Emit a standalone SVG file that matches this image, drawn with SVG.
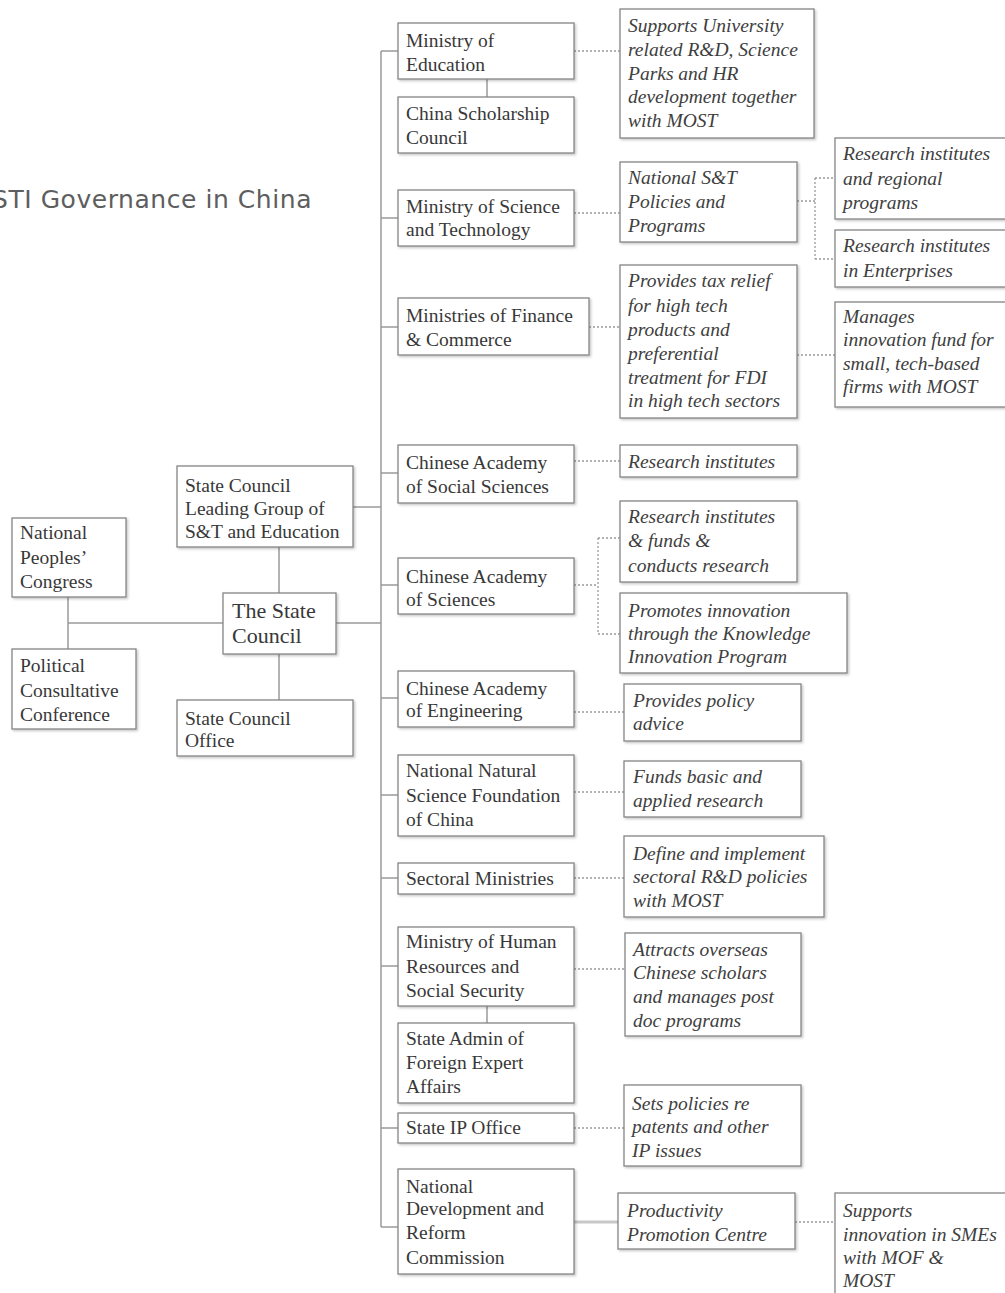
<svg xmlns="http://www.w3.org/2000/svg" width="1005" height="1293" viewBox="0 0 1005 1293">
<defs>
<filter id="sh" x="-10%" y="-10%" width="130%" height="130%">
<feDropShadow dx="1.5" dy="1.5" stdDeviation="0.8" flood-color="#000" flood-opacity="0.22"/>
</filter>
<style>
.box{fill:#fff;stroke:#858585;stroke-width:1.3;filter:url(#sh)}
.t{font-family:"Liberation Serif","Times New Roman",serif;font-size:19.5px;fill:#383838}
.i{font-family:"Liberation Serif","Times New Roman",serif;font-size:19.5px;font-style:italic;fill:#404040}
.big{font-size:22px}
.ln{stroke:#9a9a9a;stroke-width:1.5;fill:none}
.dt{stroke:#9a9a9a;stroke-width:1.3;stroke-dasharray:2 2;fill:none}
.thick{stroke:#c8c8c8;stroke-width:3;fill:none}
.title{font-family:"DejaVu Sans","Liberation Sans",sans-serif;font-size:25px;letter-spacing:0.55px;fill:#5e5e5e}
</style>
</defs>
<rect width="1005" height="1293" fill="#fff"/>
<text class="title" x="-8" y="208">STI Governance in China</text>

<g id="connectors">
<path class="ln" d="M381 51V1227"/>
<path class="ln" d="M381 51H398M381 218H398M381 327H398M381 473H398M381 585H398M381 698H398M381 795H398M381 878H398M381 966H398M381 1128H398M381 1227H398"/>
<path class="ln" d="M487 79V97M487 1006V1023"/>
<path class="ln" d="M353 507H381M336 623H381M279 547V593M279 654V700M68 597V649M68 623H223"/>
<path class="thick" d="M574 1222H618"/>
<path class="dt" d="M574 51H620M574 213H620M589 327H620M574 461H620"/>
<path class="dt" d="M574 585H598M598 538V634M598 538H620M598 634H620"/>
<path class="dt" d="M574 712H624M574 792H624M574 878H624M574 969H625M574 1128H624"/>
<path class="dt" d="M797 201H815M815 178V259M815 178H835M815 259H835"/>
<path class="dt" d="M797 355H835M795 1222H835"/>
</g>

<g id="npc"><rect class="box" x="12" y="518" width="114" height="79"/>
<text class="t" x="20" y="539">National</text><text class="t" x="20" y="564">Peoples’</text><text class="t" x="20" y="588">Congress</text></g>
<g id="pcc"><rect class="box" x="12" y="649" width="124" height="80"/>
<text class="t" x="20" y="672">Political</text><text class="t" x="20" y="697">Consultative</text><text class="t" x="20" y="721">Conference</text></g>
<g id="sc"><rect class="box" x="223" y="593" width="113" height="61"/>
<text class="t big" x="232" y="618">The State</text><text class="t big" x="232" y="643">Council</text></g>
<g id="sclg"><rect class="box" x="177" y="466" width="176" height="81"/>
<text class="t" x="185" y="492">State Council</text><text class="t" x="185" y="515">Leading Group of</text><text class="t" x="185" y="538">S&amp;T and Education</text></g>
<g id="sco"><rect class="box" x="177" y="700" width="176" height="56"/>
<text class="t" x="185" y="725">State Council</text><text class="t" x="185" y="747">Office</text></g>

<g id="moe"><rect class="box" x="398" y="23" width="176" height="56"/>
<text class="t" x="406" y="47">Ministry of</text><text class="t" x="406" y="71">Education</text></g>
<g id="csc"><rect class="box" x="398" y="97" width="176" height="56"/>
<text class="t" x="406" y="120">China Scholarship</text><text class="t" x="406" y="144">Council</text></g>
<g id="most"><rect class="box" x="398" y="190" width="176" height="56"/>
<text class="t" x="406" y="213">Ministry of Science</text><text class="t" x="406" y="236">and Technology</text></g>
<g id="mofc"><rect class="box" x="398" y="298" width="191" height="57"/>
<text class="t" x="406" y="322">Ministries of Finance</text><text class="t" x="406" y="346">&amp; Commerce</text></g>
<g id="cass"><rect class="box" x="398" y="445" width="176" height="58"/>
<text class="t" x="406" y="469">Chinese Academy</text><text class="t" x="406" y="493">of Social Sciences</text></g>
<g id="cas"><rect class="box" x="398" y="558" width="176" height="56"/>
<text class="t" x="406" y="583">Chinese Academy</text><text class="t" x="406" y="606">of Sciences</text></g>
<g id="cae"><rect class="box" x="398" y="671" width="176" height="56"/>
<text class="t" x="406" y="695">Chinese Academy</text><text class="t" x="406" y="717">of Engineering</text></g>
<g id="nnsfc"><rect class="box" x="398" y="755" width="176" height="81"/>
<text class="t" x="406" y="777">National Natural</text><text class="t" x="406" y="802">Science Foundation</text><text class="t" x="406" y="826">of China</text></g>
<g id="sect"><rect class="box" x="398" y="863" width="176" height="31"/>
<text class="t" x="406" y="885">Sectoral Ministries</text></g>
<g id="mohrss"><rect class="box" x="398" y="927" width="176" height="79"/>
<text class="t" x="406" y="948">Ministry of Human</text><text class="t" x="406" y="973">Resources and</text><text class="t" x="406" y="997">Social Security</text></g>
<g id="safea"><rect class="box" x="398" y="1023" width="176" height="80"/>
<text class="t" x="406" y="1045">State Admin of</text><text class="t" x="406" y="1069">Foreign Expert</text><text class="t" x="406" y="1093">Affairs</text></g>
<g id="ipo"><rect class="box" x="398" y="1113" width="176" height="30"/>
<text class="t" x="406" y="1134">State IP Office</text></g>
<g id="ndrc"><rect class="box" x="398" y="1169" width="176" height="105"/>
<text class="t" x="406" y="1193">National</text><text class="t" x="406" y="1215">Development and</text><text class="t" x="406" y="1239">Reform</text><text class="t" x="406" y="1264">Commission</text></g>

<g id="r_moe"><rect class="box" x="620" y="9" width="194" height="129"/>
<text class="i" x="628" y="32">Supports University</text><text class="i" x="628" y="56">related R&amp;D, Science</text><text class="i" x="628" y="80">Parks and HR</text><text class="i" x="628" y="103">development together</text><text class="i" x="628" y="127">with MOST</text></g>
<g id="r_most"><rect class="box" x="620" y="162" width="177" height="80"/>
<text class="i" x="628" y="184">National S&amp;T</text><text class="i" x="628" y="208">Policies and</text><text class="i" x="628" y="232">Programs</text></g>
<g id="r_mofc"><rect class="box" x="620" y="265" width="177" height="153"/>
<text class="i" x="628" y="287">Provides tax relief</text><text class="i" x="628" y="312">for high tech</text><text class="i" x="628" y="336">products and</text><text class="i" x="628" y="360">preferential</text><text class="i" x="628" y="384">treatment for FDI</text><text class="i" x="628" y="407">in high tech sectors</text></g>
<g id="r_cass"><rect class="box" x="620" y="445" width="177" height="32"/>
<text class="i" x="628" y="468">Research institutes</text></g>
<g id="r_cas1"><rect class="box" x="620" y="501" width="177" height="81"/>
<text class="i" x="628" y="523">Research institutes</text><text class="i" x="628" y="547">&amp; funds &amp;</text><text class="i" x="628" y="572">conducts research</text></g>
<g id="r_cas2"><rect class="box" x="620" y="593" width="227" height="80"/>
<text class="i" x="628" y="617">Promotes innovation</text><text class="i" x="628" y="640">through the Knowledge</text><text class="i" x="628" y="663">Innovation Program</text></g>
<g id="r_cae"><rect class="box" x="624" y="684" width="177" height="57"/>
<text class="i" x="633" y="707">Provides policy</text><text class="i" x="633" y="730">advice</text></g>
<g id="r_nnsfc"><rect class="box" x="624" y="761" width="177" height="56"/>
<text class="i" x="633" y="783">Funds basic and</text><text class="i" x="633" y="807">applied research</text></g>
<g id="r_sect"><rect class="box" x="624" y="836" width="200" height="81"/>
<text class="i" x="633" y="860">Define and implement</text><text class="i" x="633" y="883">sectoral R&amp;D policies</text><text class="i" x="633" y="907">with MOST</text></g>
<g id="r_mohrss"><rect class="box" x="625" y="933" width="176" height="103"/>
<text class="i" x="633" y="956">Attracts overseas</text><text class="i" x="633" y="979">Chinese scholars</text><text class="i" x="633" y="1003">and manages post</text><text class="i" x="633" y="1027">doc programs</text></g>
<g id="r_ipo"><rect class="box" x="624" y="1085" width="177" height="81"/>
<text class="i" x="632" y="1110">Sets policies re</text><text class="i" x="632" y="1133">patents and other</text><text class="i" x="632" y="1157">IP issues</text></g>
<g id="ppc"><rect class="box" x="618" y="1193" width="177" height="56"/>
<text class="i" x="627" y="1217">Productivity</text><text class="i" x="627" y="1241">Promotion Centre</text></g>

<g id="ri_reg"><rect class="box" x="835" y="138" width="185" height="81"/>
<text class="i" x="843" y="160">Research institutes</text><text class="i" x="843" y="185">and regional</text><text class="i" x="843" y="209">programs</text></g>
<g id="ri_ent"><rect class="box" x="835" y="230" width="185" height="57"/>
<text class="i" x="843" y="252">Research institutes</text><text class="i" x="843" y="277">in Enterprises</text></g>
<g id="manages"><rect class="box" x="835" y="302" width="185" height="105"/>
<text class="i" x="843" y="323">Manages</text><text class="i" x="843" y="346">innovation fund for</text><text class="i" x="843" y="370">small, tech-based</text><text class="i" x="843" y="393">firms with MOST</text></g>
<g id="smes"><rect class="box" x="835" y="1193" width="185" height="115"/>
<text class="i" x="843" y="1217">Supports</text><text class="i" x="843" y="1241">innovation in SMEs</text><text class="i" x="843" y="1264">with MOF &amp;</text><text class="i" x="843" y="1287">MOST</text></g>
</svg>
